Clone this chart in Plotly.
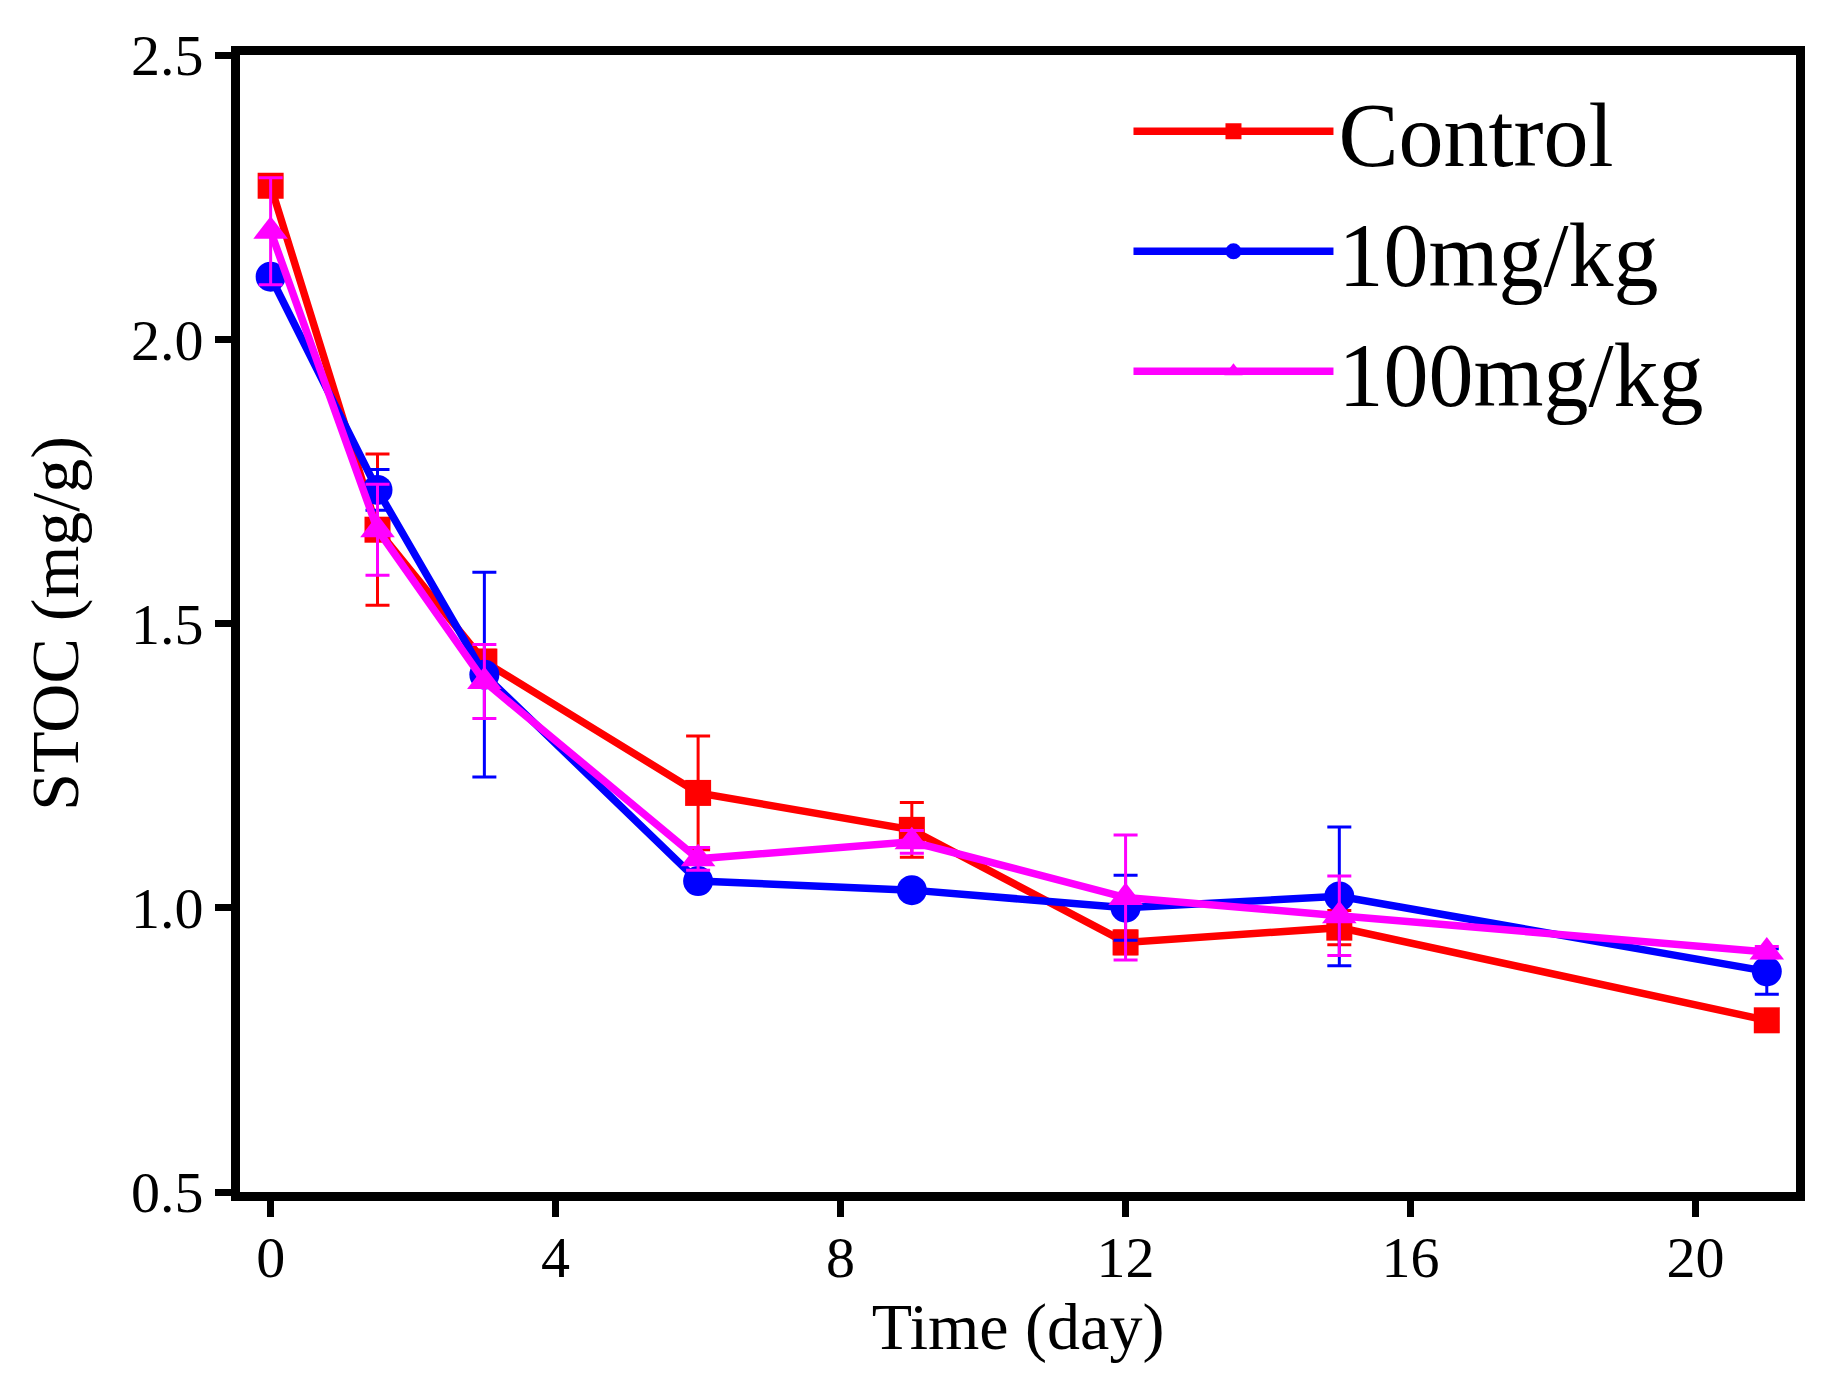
import plotly.graph_objects as go

# sampling days
days = [0, 1.5, 3, 6, 9, 12, 15, 21]

# STOC (mg/g)
control = [2.27, 1.665, 1.433, 1.202, 1.137, 0.939, 0.965, 0.802]
control_err = [0.01, 0.133, 0.02, 0.10, 0.048, 0.02, 0.03, 0.01]

dose10 = [2.11, 1.735, 1.41, 1.047, 1.031, 1.0, 1.02, 0.888]
dose10_err = [0.01, 0.036, 0.18, 0.01, 0.0, 0.057, 0.122, 0.04]

dose100 = [2.19, 1.665, 1.398, 1.086, 1.116, 1.018, 0.986, 0.922]
dose100_err = [0.094, 0.08, 0.065, 0.02, 0.02, 0.11, 0.07, 0.01]

font_name = "Liberation Serif"

fig = go.Figure()

series = [
    ("Control", control, control_err, "#ff0000", "square", 26),
    ("10mg/kg", dose10, dose10_err, "#0000ff", "circle", 30),
    ("100mg/kg", dose100, dose100_err, "#ff00ff", "triangle-up", 30),
]

for name, vals, errs, colour, symbol, size in series:
    fig.add_trace(go.Scatter(
        x=days,
        y=vals,
        name=name,
        mode="lines+markers",
        line=dict(color=colour, width=7.5),
        marker=dict(symbol=symbol, size=size, color=colour),
        error_y=dict(type="data", array=errs, visible=True,
                     color=colour, thickness=3, width=12),
    ))

axis_style = dict(
    showline=True,
    linecolor="black",
    linewidth=9,
    mirror=True,
    ticks="outside",
    ticklen=16,
    tickwidth=7,
    tickcolor="black",
    showgrid=False,
    zeroline=False,
    tickfont=dict(family=font_name, size=58, color="black"),
)

fig.update_xaxes(
    range=[-0.43, 21.41],
    tickvals=[0, 4, 8, 12, 16, 20],
    ticklabelstandoff=-10,
    title=dict(text="Time (day)", font=dict(family=font_name, size=66, color="black"), standoff=0),
    **axis_style
)
fig.update_yaxes(
    range=[0.5, 2.5],
    tickvals=[0.5, 1.0, 1.5, 2.0, 2.5],
    tickformat=".1f",
    title=dict(text="STOC (mg/g)", font=dict(family=font_name, size=68, color="black"), standoff=34),
    **axis_style
)

fig.update_layout(
    width=1821,
    height=1373,
    margin=dict(l=232, r=33, t=47, b=189),
    plot_bgcolor="white",
    paper_bgcolor="white",
    showlegend=True,
    legend=dict(
        x=0.571,
        y=0.99,
        xanchor="left",
        yanchor="top",
        bgcolor="rgba(0,0,0,0)",
        font=dict(family=font_name, size=90, color="black"),
        itemwidth=200,
        tracegroupgap=0,
    ),
)

fig.write_html("out.html")
